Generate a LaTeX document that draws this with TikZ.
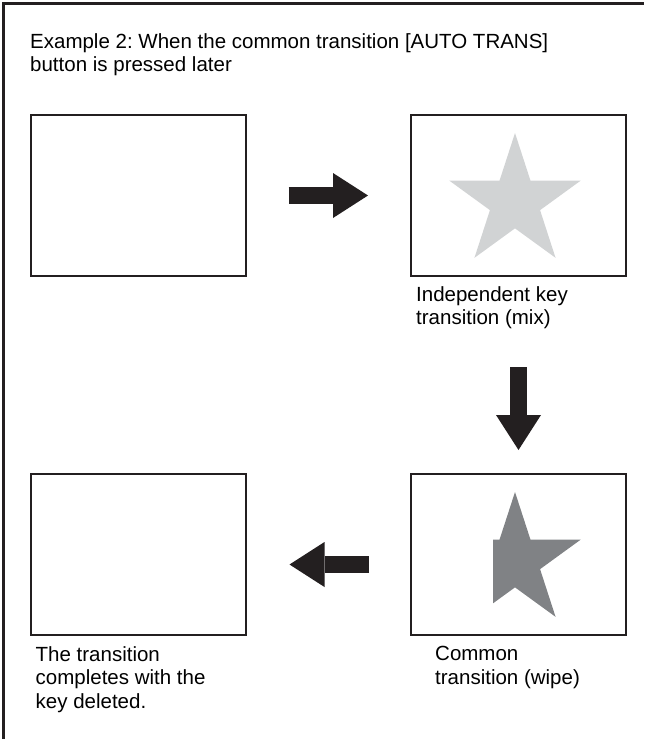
\documentclass[tikz,border=0pt]{standalone}
\usepackage{fontspec}
\setmainfont{Liberation Sans}
\usepackage{tikz}
\usetikzlibrary{arrows.meta,calc,shapes.geometric}
\frenchspacing

\definecolor{ink}{HTML}{231F20}
\definecolor{keylight}{HTML}{D1D3D4}
\definecolor{keydark}{HTML}{808285}

\begin{document}
\begin{tikzpicture}[>=latex, x=1pt, y=-1pt]
			\tikzstyle{screen}=[draw=ink, line width=2pt, minimum width=215pt, minimum height=161pt, inner sep=0pt]
			\tikzstyle{keystar}=[star, star points=5, star point ratio=2.618, minimum size=138pt, inner sep=0pt, draw=none]
			\tikzstyle{bigarrow}=[draw=ink, line width=17pt, -{Triangle[length=35pt, width=45pt, line width=0pt]}]
			\tikzstyle{caption}=[anchor=north west, align=left, inner sep=0pt, font=\fontsize{20.5}{23.5}\selectfont]

			\useasboundingbox (0,0) rectangle (646,739);
			\draw [ink, line width=2.5pt] (3.5,739) -- (3.5,3.5) -- (644,3.5);

			\node (T) [caption] at (30,33.3) {Example 2: When the common transition [AUTO TRANS]\\button is pressed later};

			\node (S1) [screen] at (138.5,195.5) {};
			\node (S2) [screen] at (518.5,195.5) {};
			\node (S3) [screen] at (138.5,554.5) {};
			\node (S4) [screen] at (518.5,554.5) {};

			\node (K1) [keystar, fill=keylight] at ($(S2.center) + (-3.5, 6.5)$) {};
			\begin{scope}
				\clip (493,474) rectangle (626,635);
				\node (K2) [keystar, fill=keydark] at ($(S4.center) + (-3.5, 6.5)$) {};
			\end{scope}

			\draw [bigarrow, shorten <=41.5pt, shorten >=42pt] (S1) -- (S2);
			\draw [bigarrow, shorten <=90pt, shorten >=23pt] (S2) -- (S4);
			\draw [bigarrow, shorten <=41pt, shorten >=42.5pt] ($(S4.west) + (0,10)$) -- ($(S3.east) + (0,10)$);

			\node (C2) [caption] at ($(S2.south west) + (6, 9)$) {Independent key\\transition (mix)};
			\node (C4) [caption] at ($(S4.south west) + (25, 10)$) {Common\\transition (wipe)};
			\node (C3) [caption] at ($(S3.south west) + (5.5, 10)$) {The transition\\completes with the\\key deleted.};
		\end{tikzpicture}
\end{document}
